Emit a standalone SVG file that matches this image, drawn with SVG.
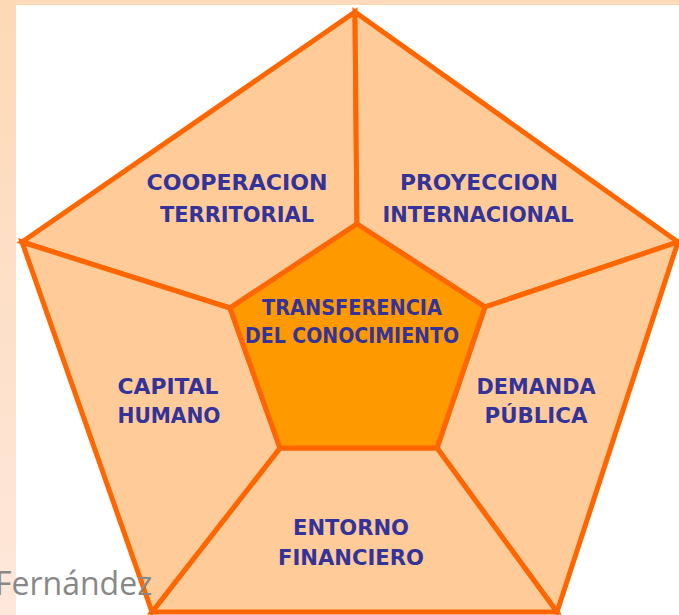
<svg xmlns="http://www.w3.org/2000/svg" width="679" height="615" viewBox="0 0 679 615">
<style>
.reg{fill:#ffcc99;stroke:#ff6600;stroke-width:5;stroke-linejoin:miter}
.core{fill:#ff9900;stroke:#ff6600;stroke-width:5;stroke-linejoin:miter}
.lbl{font-family:"DejaVu Sans",Verdana,sans-serif;font-weight:bold;font-size:21px;fill:#333399;text-anchor:middle}
</style>
<defs>
<linearGradient id="band" x1="0" y1="0" x2="0" y2="1">
<stop offset="0" stop-color="#fdd9b6"/>
<stop offset="1" stop-color="#fee7db"/>
</linearGradient>
</defs>
<rect x="0" y="0" width="679" height="615" fill="#ffffff"/>
<rect x="0" y="0" width="679" height="5" fill="#fddbba"/>
<rect x="0" y="0" width="16" height="615" fill="url(#band)"/>
<g id="cooperacion">
<polygon class="reg" points="22,242 355,12 357,224 230,308"/>
<text class="lbl" x="237" y="190" textLength="181" lengthAdjust="spacingAndGlyphs">COOPERACION</text>
<text class="lbl" x="237" y="222" textLength="154" lengthAdjust="spacingAndGlyphs">TERRITORIAL</text>
</g>
<g id="proyeccion">
<polygon class="reg" points="355,12 678,242 485,307 357,224"/>
<text class="lbl" x="479" y="190" textLength="158" lengthAdjust="spacingAndGlyphs">PROYECCION</text>
<text class="lbl" x="478" y="222" textLength="191" lengthAdjust="spacingAndGlyphs">INTERNACIONAL</text>
</g>
<g id="demanda">
<polygon class="reg" points="678,242 557,612 437,448 485,307"/>
<text class="lbl" x="536" y="394" textLength="119" lengthAdjust="spacingAndGlyphs">DEMANDA</text>
<text class="lbl" x="536" y="423" textLength="103" lengthAdjust="spacingAndGlyphs">PÚBLICA</text>
</g>
<g id="entorno">
<polygon class="reg" points="557,612 152,612 280,448 437,448"/>
<text class="lbl" x="351" y="535" textLength="116" lengthAdjust="spacingAndGlyphs">ENTORNO</text>
<text class="lbl" x="351" y="565" textLength="146" lengthAdjust="spacingAndGlyphs">FINANCIERO</text>
</g>
<g id="capital">
<polygon class="reg" points="152,612 22,242 230,308 280,448"/>
<text class="lbl" x="168" y="394" textLength="101" lengthAdjust="spacingAndGlyphs">CAPITAL</text>
<text class="lbl" x="169" y="423" textLength="103" lengthAdjust="spacingAndGlyphs">HUMANO</text>
</g>
<g id="transferencia">
<polygon class="core" points="357,224 485,307 437,448 280,448 230,308"/>
<text class="lbl" x="352" y="315" textLength="180" lengthAdjust="spacingAndGlyphs">TRANSFERENCIA</text>
<text class="lbl" x="352" y="343" textLength="214" lengthAdjust="spacingAndGlyphs">DEL CONOCIMIENTO</text>
</g>
<g id="connectors"></g>
<text x="-5" y="595" font-family="'Open Sans','Noto Sans',sans-serif" font-size="32" fill="#888888">Fernández</text>
</svg>
